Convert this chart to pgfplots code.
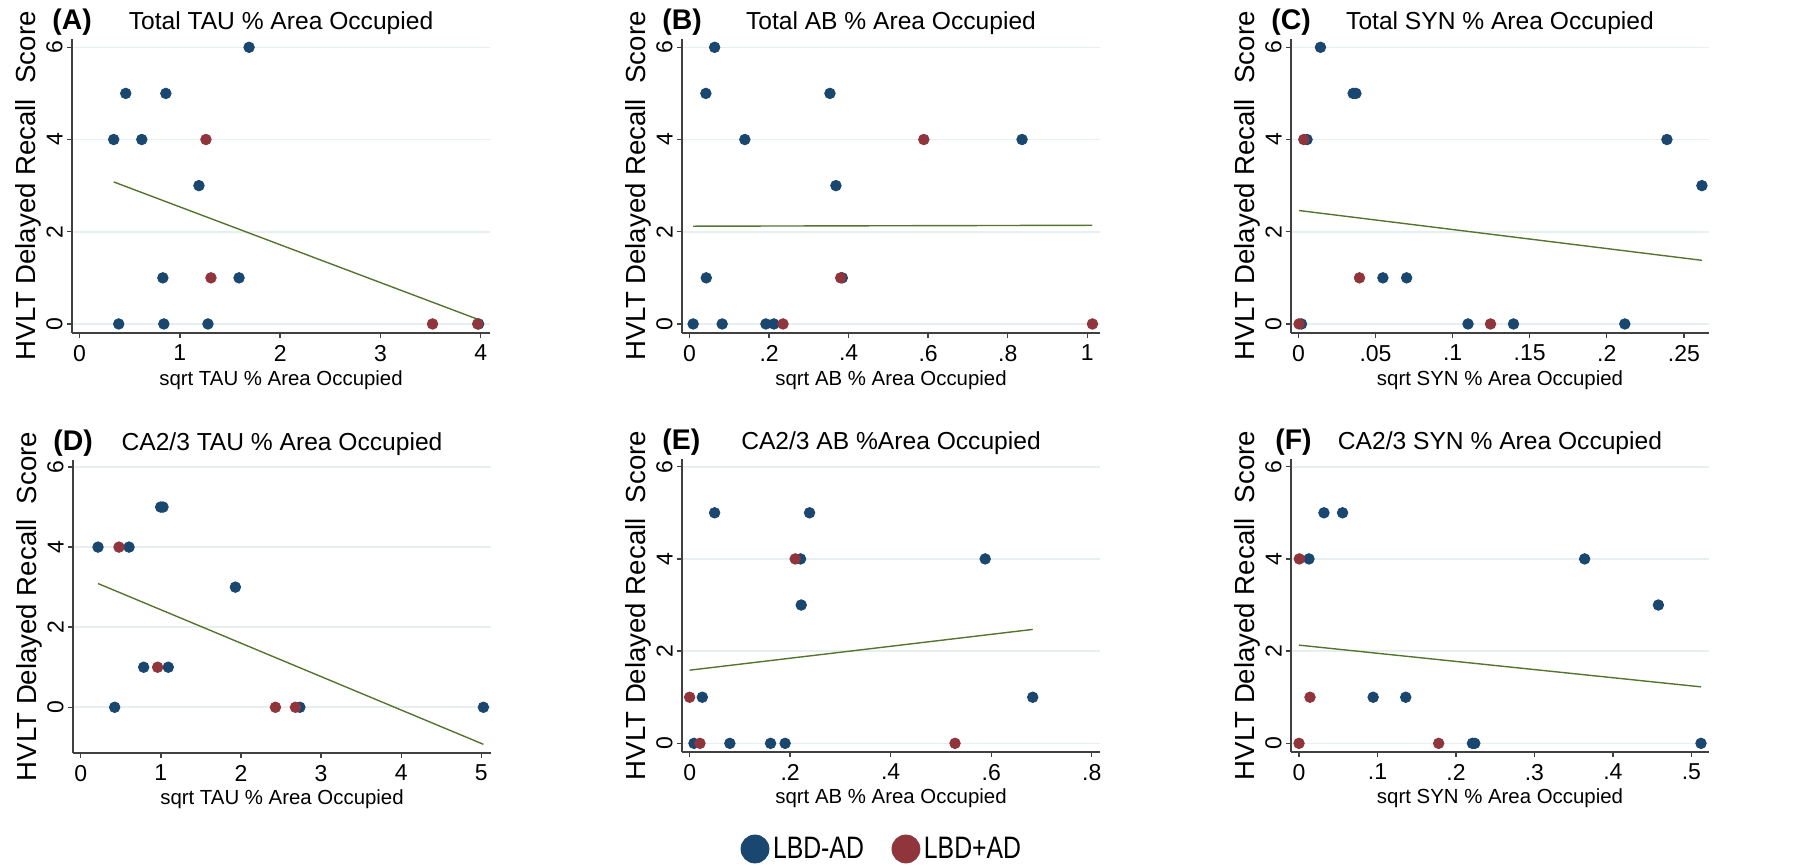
\documentclass[border=0pt]{standalone}
\usepackage{pgfplots}
\pgfplotsset{compat=1.18}
\usepackage{fontspec}
\setmainfont{Liberation Sans}
\newfontfamily\narrowfont[FakeStretch=0.8]{Liberation Sans}
\definecolor{cblue}{HTML}{1A476F}
\definecolor{cred}{HTML}{90353B}
\definecolor{cgreen}{HTML}{55752F}
\definecolor{cgrid}{HTML}{E8EFF1}
\definecolor{caxis}{HTML}{404040}
\pgfplotsset{
  panel/.style={
    width=209pt, height=147pt, scale only axis, clip=false,
    axis x line=bottom, axis y line=left,
    axis line style={-, draw=caxis, line width=0.7pt},
    major tick length=2.5pt, tick align=outside,
    tick style={draw=caxis, line width=0.7pt},
    ymajorgrids, grid style={draw=cgrid, line width=0.8pt},
    ytick={0,2,4,6}, yticklabels={0,2,4,6},
    ticklabel style={font=\fontsize{11.5}{12}\selectfont},
    yticklabel style={rotate=90, anchor=south, inner sep=2pt},
    ylabel={HVLT Delayed Recall\ \ Score},
    every axis y label/.style={at={(axis description cs:-0.1053,0.5)}, rotate=90, anchor=center, font=\fontsize{13.8}{15}\selectfont},
    every axis x label/.style={at={(axis description cs:0.5,-0.177)}, anchor=base, font=\fontsize{10.2}{12}\selectfont},
    every axis title/.style={at={(axis description cs:0.5,1)}, anchor=base, yshift=5pt, font=\fontsize{12.3}{14}\selectfont},
  },
  blu/.style={only marks, mark=*, mark size=2.65pt, color=cblue, forget plot},
  rd/.style={only marks, mark=*, mark size=2.65pt, color=cred, forget plot},
  fit/.style={no markers, color=cgreen, line width=0.7pt, forget plot},
}
\newcommand{\plabel}[2][-10pt]{\node[anchor=base west, inner sep=0pt, xshift=#1, yshift=5pt, font=\fontsize{14.2}{16}\selectfont\bfseries] at (rel axis cs:0,1) {#2};}
\newcommand{\legfont}{\narrowfont\fontsize{15.5}{18}\selectfont}
\begin{document}
\begin{tikzpicture}
\useasboundingbox (0,0) rectangle (900pt,-433.5pt);
% (A)
\begin{axis}[panel, at={(36pt,-19.5pt)}, anchor=north west,
  xmin=-0.076, xmax=4.093, ymin=-0.196, ymax=6.18,
  xtick={0,1,2,3,4}, xticklabels={0,1,2,3,4},
  xlabel={sqrt TAU \% Area Occupied}, title={Total TAU \% Area Occupied}]
\addplot[blu] coordinates {(1.69,6)(0.46,5)(0.86,5)(0.34,4)(0.62,4)(1.19,3)(0.83,1)(1.59,1)(0.39,0)(0.84,0)(1.28,0)(3.98,0)};
\addplot[rd] coordinates {(1.26,4)(1.31,1)(3.52,0)(3.97,0)};
\addplot[fit] coordinates {(0.34,3.08)(3.98,0.094)};
\plabel{(A)}
\end{axis}
% (B)
\begin{axis}[panel, at={(341pt,-19.5pt)}, anchor=north west,
  xmin=-0.019, xmax=1.032, ymin=-0.196, ymax=6.18,
  xtick={0,0.2,0.4,0.6,0.8,1}, xticklabels={0,.2,.4,.6,.8,1},
  xlabel={sqrt AB \% Area Occupied}, title={Total AB \% Area Occupied}]
\addplot[blu] coordinates {(0.063,6)(0.041,5)(0.353,5)(0.139,4)(0.836,4)(0.368,3)(0.042,1)(0.384,1)(0.009,0)(0.082,0)(0.192,0)(0.212,0)};
\addplot[rd] coordinates {(0.589,4)(0.380,1)(0.235,0)(1.013,0)};
\addplot[fit] coordinates {(0.009,2.12)(1.013,2.14)};
\plabel{(B)}
\end{axis}
% (C)
\begin{axis}[panel, at={(645.5pt,-19.5pt)}, anchor=north west,
  xmin=-0.0048, xmax=0.2663, ymin=-0.196, ymax=6.18,
  xtick={0,0.05,0.1,0.15,0.2,0.25}, xticklabels={0,.05,.1,.15,.2,.25},
  xlabel={sqrt SYN \% Area Occupied}, title={Total SYN \% Area Occupied}]
\addplot[blu] coordinates {(0.0143,6)(0.0355,5)(0.0373,5)(0.0056,4)(0.239,4)(0.2617,3)(0.0548,1)(0.0702,1)(0.002,0)(0.110,0)(0.1395,0)(0.2117,0)};
\addplot[rd] coordinates {(0.0035,4)(0.0396,1)(0.0004,0)(0.1246,0)};
\addplot[fit] coordinates {(0.0004,2.46)(0.2617,1.38)};
\plabel{(C)}
\end{axis}
% (D)
\begin{axis}[panel, height=146.5pt, at={(36.5pt,-230pt)}, anchor=north west,
  xmin=-0.096, xmax=5.12, ymin=-1.142, ymax=6.175,
  xtick={0,1,2,3,4,5}, xticklabels={0,1,2,3,4,5},
  xlabel={sqrt TAU \% Area Occupied}, title={CA2/3 TAU \% Area Occupied}]
\addplot[blu] coordinates {(0.216,4)(0.603,4)(0.998,5)(1.027,5)(1.93,3)(0.786,1)(1.093,1)(0.424,0)(2.735,0)(5.025,0)};
\addplot[rd] coordinates {(0.478,4)(0.96,1)(2.43,0)(2.68,0)};
\addplot[fit] coordinates {(0.216,3.09)(5.025,-0.925)};
\plabel{(D)}
\end{axis}
% (E)
\begin{axis}[panel, height=146.5pt, at={(341pt,-229.5pt)}, anchor=north west,
  xmin=-0.0152, xmax=0.8165, ymin=-0.188, ymax=6.167,
  xtick={0,0.2,0.4,0.6,0.8}, xticklabels={0,.2,.4,.6,.8},
  xlabel={sqrt AB \% Area Occupied}, title={CA2/3 AB \%Area Occupied},
  legend columns=2,
  legend style={at={(0.481,-0.331)}, anchor=center, draw=none, fill=none,
    font=\legfont,
    /tikz/every even column/.append style={column sep=12pt}}]
\addplot[blu] coordinates {(0.0497,5)(0.2386,5)(0.2207,4)(0.588,4)(0.222,3)(0.0252,1)(0.6826,1)(0.0086,0)(0.080,0)(0.161,0)(0.190,0)};
\addplot[rd] coordinates {(0.210,4)(0.0,1)(0.0205,0)(0.528,0)};
\addplot[fit] coordinates {(0,1.587)(0.6826,2.471)};
\addlegendimage{only marks, mark=*, mark size=7pt, color=cblue}
\addlegendentry{\legfont LBD-AD}
\addlegendimage{only marks, mark=*, mark size=7pt, color=cred}
\addlegendentry{\legfont LBD+AD}
\plabel{(E)}
\end{axis}
% (F)
\begin{axis}[panel, height=146.5pt, at={(645.5pt,-229.5pt)}, anchor=north west,
  xmin=-0.0102, xmax=0.5225, ymin=-0.188, ymax=6.167,
  xtick={0,0.1,0.2,0.3,0.4,0.5}, xticklabels={0,.1,.2,.3,.4,.5},
  xlabel={sqrt SYN \% Area Occupied}, title={CA2/3 SYN \% Area Occupied}]
\addplot[blu] coordinates {(0.0318,5)(0.0555,5)(0.0127,4)(0.364,4)(0.458,3)(0.0945,1)(0.136,1)(0.221,0)(0.224,0)(0.5123,0)};
\addplot[rd] coordinates {(0.0004,4)(0.014,1)(0.0,0)(0.178,0)};
\addplot[fit] coordinates {(0,2.13)(0.5123,1.225)};
\plabel[-8pt]{(F)}
\end{axis}
\end{tikzpicture}
\end{document}
